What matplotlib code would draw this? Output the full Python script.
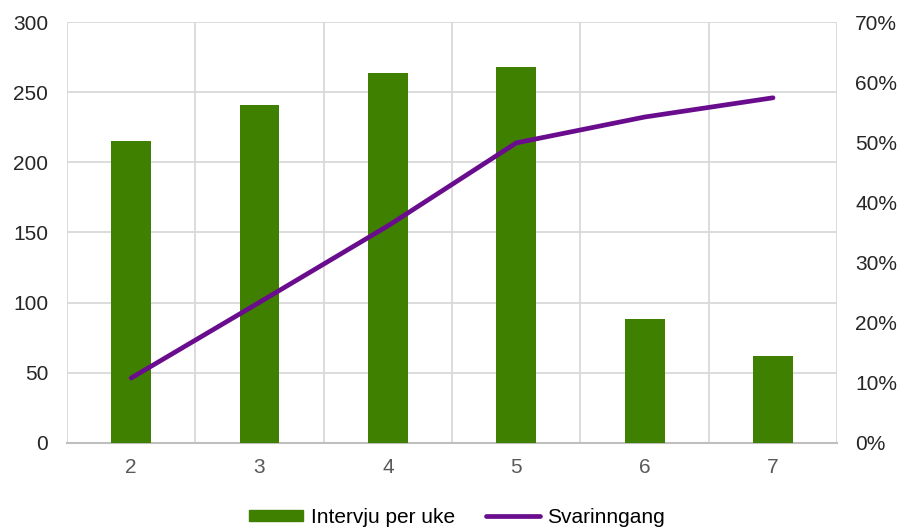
import matplotlib.pyplot as plt
from matplotlib.ticker import FuncFormatter, MultipleLocator
from matplotlib.patches import Patch
from matplotlib.lines import Line2D

plt.rcParams['font.family'] = ['Liberation Sans', 'DejaVu Sans']

# data
uker = [2, 3, 4, 5, 6, 7]
intervju_per_uke = [215, 241, 264, 268, 88, 62]
svarinngang = [0.108, 0.234, 0.361, 0.499, 0.542, 0.574]

bar_color = '#3F8000'
line_color = '#6A0C8E'
grid_color = '#D9D9D9'
fs = 15

fig = plt.figure(figsize=(9.09, 5.29), dpi=100)
ax = fig.add_axes([0.0737, 0.1626, 0.8473, 0.7958])
x = list(range(len(uker)))

ax.bar(x, intervju_per_uke, width=0.31, color=bar_color, zorder=3)
ax.set_xlim(-0.5, len(uker) - 0.5)
ax.set_ylim(0, 300)
ax.yaxis.set_major_locator(MultipleLocator(50))
ax.set_xticks(x)
ax.set_xticklabels([str(u) for u in uker])

# gridlines: horizontal at each tick, vertical between categories
ax.grid(axis='y', color=grid_color, linewidth=1.3, zorder=0)
for b in range(len(uker) + 1):
    ax.axvline(b - 0.5, color=grid_color, linewidth=1.3, zorder=0)

for s in ['top', 'left', 'right']:
    ax.spines[s].set_visible(False)
ax.spines['bottom'].set_color('#BFBFBF')
ax.spines['bottom'].set_linewidth(1.5)
ax.tick_params(axis='both', length=0, labelsize=fs)
ax.tick_params(axis='x', colors='#595959', pad=11)
ax.tick_params(axis='y', labelcolor='#262626', pad=13.5)

ax2 = ax.twinx()
ax2.plot(x, svarinngang, color=line_color, linewidth=3.4, solid_capstyle='round', zorder=4)
ax2.set_ylim(0, 0.70)
ax2.yaxis.set_major_locator(MultipleLocator(0.1))
ax2.yaxis.set_major_formatter(FuncFormatter(lambda v, p: f'{v * 100:.0f}%'))
for s in ax2.spines.values():
    s.set_visible(False)
ax2.tick_params(axis='y', length=0, labelsize=fs, labelcolor='#262626', pad=13)

handles = [Patch(color=bar_color), Line2D([0], [0], color=line_color, linewidth=3.4, solid_capstyle='round')]
fig.legend(handles, ['Intervju per uke', 'Svarinngang'], loc='center', bbox_to_anchor=(0.503, 0.022),
           ncol=2, frameon=False, fontsize=fs, handlelength=2.6, handleheight=0.48,
           handletextpad=0.35, columnspacing=1.5)

fig.savefig('out.png', dpi=100)
